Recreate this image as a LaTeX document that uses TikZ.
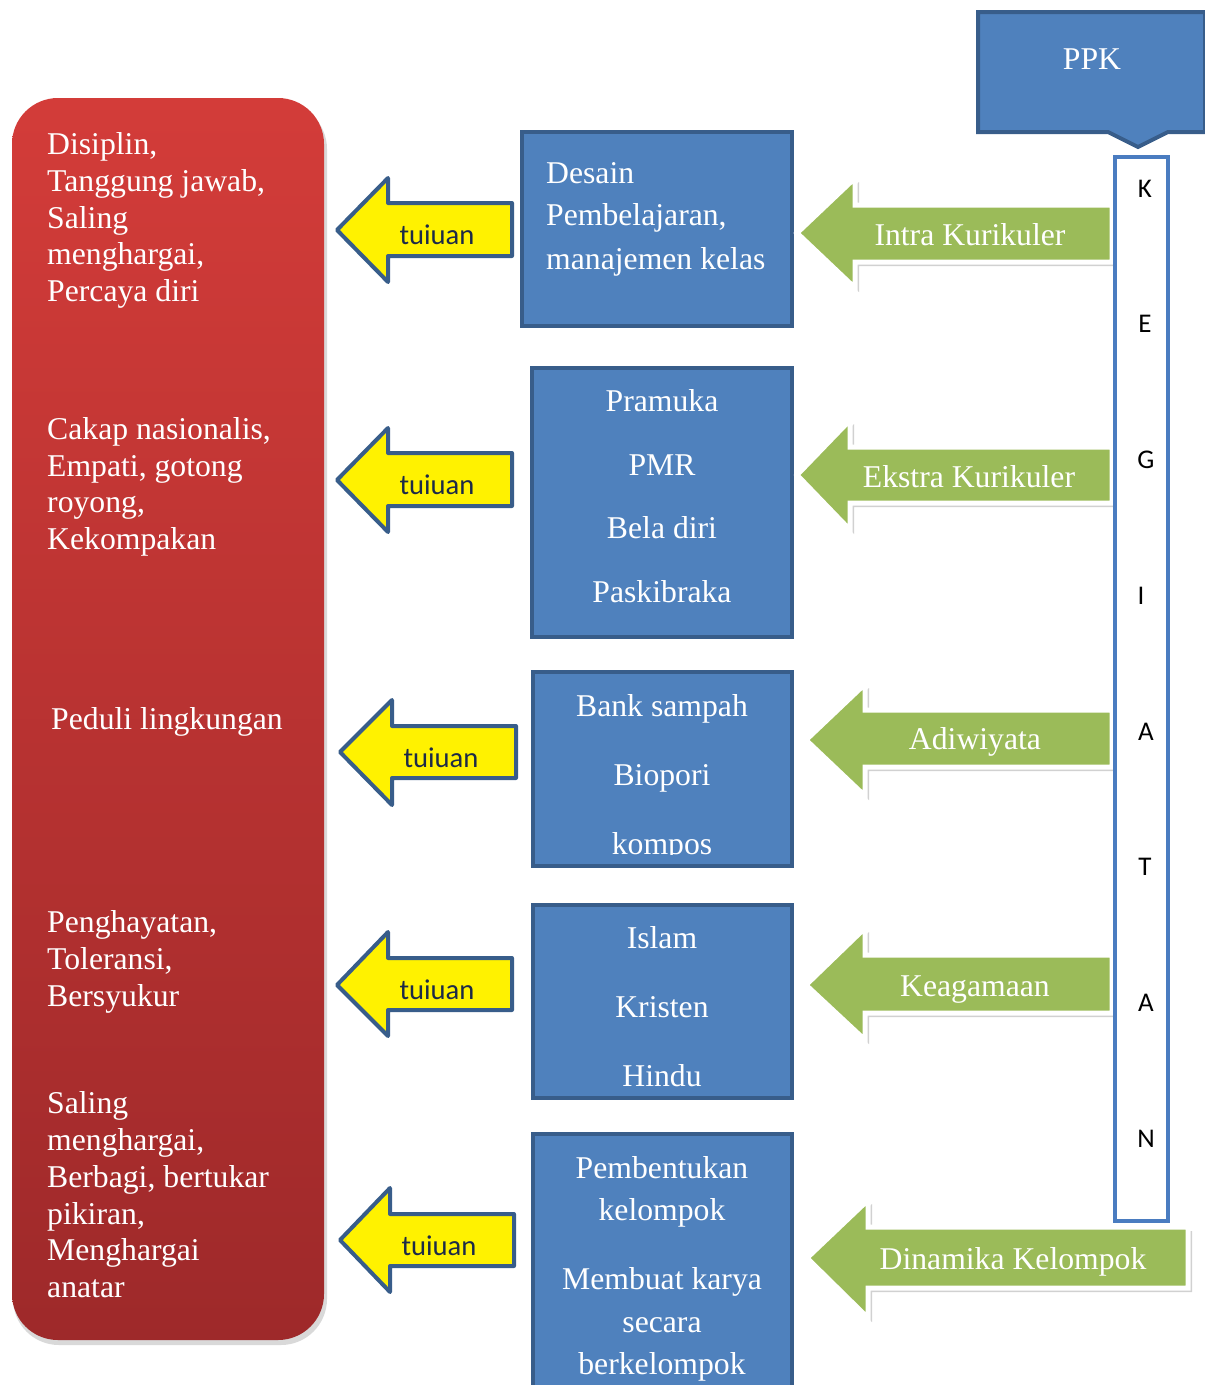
\documentclass[tikz,border=0pt]{standalone}
\usepackage{fontspec}
\setmainfont{Liberation Serif}
\newfontfamily\calfont{Carlito}
\definecolor{bluefill}{HTML}{4F81BD}
\definecolor{blueline}{HTML}{385D8A}
\definecolor{kegline}{HTML}{4A7CC0}
\definecolor{greenfill}{HTML}{9BBB59}
\definecolor{redtop}{HTML}{D33C39}
\definecolor{redbot}{HTML}{9E292A}
\definecolor{tjtext}{HTML}{1C2A48}
\begin{document}
\begin{tikzpicture}[x=1pt,y=-1pt,
  txt/.style={font=\fontsize{31.7}{36}\selectfont, text=white, inner sep=0pt, yshift=-2pt},
  lt/.style={txt, anchor=base west},
  ct/.style={txt, anchor=base},
  bluebox/.style={fill=bluefill, draw=blueline, line width=4pt},
  yarrow/.style={fill=yellow, draw=blueline, line width=4pt, line join=round},
  garrow/.style={fill=greenfill, draw=white, line width=5pt, line join=miter},
  gshadow/.style={fill=black, opacity=0.18},
  tj/.style={font=\calfont\fontsize{28.6}{30}\selectfont, text=tjtext, inner sep=0pt, anchor=base},
  kl/.style={font=\calfont\fontsize{27}{30}\selectfont, text=black, inner sep=0pt}]
\clip (0,0) rectangle (1205,1385);
\fill[white] (0,0) rectangle (1205,1385);

% red box
\fill[black, opacity=0.15, rounded corners=46pt] (13,103) rectangle (327,1345);
\shade[top color=redtop, bottom color=redbot, rounded corners=46pt] (12,98) rectangle (324,1340);

\node[lt] (r1a) at (47,152) {Disiplin,};
\node[lt] (r1b) at (47,189) {Tanggung jawab,};
\node[lt] (r1c) at (47,226) {Saling};
\node[lt] (r1d) at (47,262) {menghargai,};
\node[lt] (r1e) at (47,299) {Percaya diri};
\node[lt] (r2a) at (47,437) {Cakap nasionalis,};
\node[lt] (r2b) at (47,474) {Empati, gotong};
\node[lt] (r2c) at (47,510) {royong,};
\node[lt] (r2d) at (47,547) {Kekompakan};
\node[lt] (r3a) at (51,727) {Peduli lingkungan};
\node[lt] (r4a) at (47,930) {Penghayatan,};
\node[lt] (r4b) at (47,967) {Toleransi,};
\node[lt] (r4c) at (47,1004) {Bersyukur};
\node[lt] (r5a) at (47,1111) {Saling};
\node[lt] (r5b) at (47,1148) {menghargai,};
\node[lt] (r5c) at (47,1185) {Berbagi, bertukar};
\node[lt] (r5d) at (47,1222) {pikiran,};
\node[lt] (r5e) at (47,1258) {Menghargai};
\node[lt] (r5f) at (47,1295) {anatar};

% yellow arrows
\draw[yarrow] (512,203) -- (388,203) -- (388,178) -- (337,230) -- (388,282) -- (388,256) -- (512,256) -- cycle;
\node[tj] (t1) at (437,244) {tuiuan};
\draw[yarrow] (512,453) -- (388,453) -- (388,428) -- (337,480) -- (388,532) -- (388,506) -- (512,506) -- cycle;
\node[tj] (t2) at (437,494) {tuiuan};
\draw[yarrow] (516,726) -- (392,726) -- (392,700) -- (340,752) -- (392,805) -- (392,778) -- (516,778) -- cycle;
\node[tj] (t3) at (441,767) {tuiuan};
\draw[yarrow] (512,958) -- (388,958) -- (388,932) -- (337,985) -- (388,1036) -- (388,1010) -- (512,1010) -- cycle;
\node[tj] (t4) at (437,999) {tuiuan};
\draw[yarrow] (514,1214) -- (390,1214) -- (390,1188) -- (340,1240) -- (390,1292) -- (390,1266) -- (514,1266) -- cycle;
\node[tj] (t5) at (439,1255) {tuiuan};

% blue boxes
\draw[bluebox] (522,132) rectangle (792,326);
\node[lt] (b1a) at (546,181) {Desain};
\node[lt] (b1b) at (546,223) {Pembelajaran,};
\node[lt] (b1c) at (546,267) {manajemen kelas};

\draw[bluebox] (532,368) rectangle (792,637);
\node[ct] (b2a) at (662,409) {Pramuka};
\node[ct] (b2b) at (662,473) {PMR};
\node[ct] (b2c) at (662,536) {Bela diri};
\node[ct] (b2d) at (662,600) {Paskibraka};

\draw[bluebox] (533,672) rectangle (792,866);
\node[ct] (b3a) at (662,714) {Bank sampah};
\node[ct] (b3b) at (662,783) {Biopori};
\begin{scope}
\clip (533,672) rectangle (792,854);
\node[ct] (b3c) at (662,852) {kompos};
\end{scope}

\draw[bluebox] (533,905) rectangle (792,1098);
\node[ct] (b4a) at (662,946) {Islam};
\node[ct] (b4b) at (662,1015) {Kristen};
\node[ct] (b4c) at (662,1084) {Hindu};

\draw[bluebox] (533,1134) rectangle (792,1400);
\node[ct] (b5a) at (662,1176) {Pembentukan};
\node[ct] (b5b) at (662,1218) {kelompok};
\node[ct] (b5c) at (662,1287) {Membuat karya};
\node[ct] (b5d) at (662,1330) {secara};
\node[ct] (b5e) at (662,1372) {berkelompok};

% green arrows
\fill[gshadow] (1116,209) -- (859,209) -- (859,182) -- (801,237) -- (859,292) -- (859,266) -- (1116,266) -- cycle;
\draw[garrow] (1112,205) -- (855,205) -- (855,178) -- (797,233) -- (855,288) -- (855,262) -- (1112,262) -- cycle;
\node[ct] (g1) at (970,243) {Intra Kurikuler};

\fill[gshadow] (1116,451) -- (854,451) -- (854,424) -- (801,479) -- (854,534) -- (854,507) -- (1116,507) -- cycle;
\draw[garrow] (1112,447) -- (850,447) -- (850,420) -- (797,475) -- (850,530) -- (850,503) -- (1112,503) -- cycle;
\node[ct] (g2) at (969,485) {Ekstra Kurikuler};

\fill[gshadow] (1116,714) -- (869,714) -- (869,688) -- (810,744) -- (869,800) -- (869,771) -- (1116,771) -- cycle;
\draw[garrow] (1112,710) -- (865,710) -- (865,684) -- (806,740) -- (865,796) -- (865,767) -- (1112,767) -- cycle;
\node[ct] (g3) at (975,747) {Adiwiyata};

\fill[gshadow] (1116,959) -- (869,959) -- (869,932) -- (810,989) -- (869,1044) -- (869,1017) -- (1116,1017) -- cycle;
\draw[garrow] (1112,955) -- (865,955) -- (865,928) -- (806,985) -- (865,1040) -- (865,1013) -- (1112,1013) -- cycle;
\node[ct] (g4) at (975,994) {Keagamaan};

\fill[gshadow] (1192,1231) -- (872,1231) -- (872,1204) -- (811,1262) -- (872,1322) -- (872,1292) -- (1192,1292) -- cycle;
\draw[garrow] (1188,1227) -- (868,1227) -- (868,1200) -- (807,1258) -- (868,1318) -- (868,1288) -- (1188,1288) -- cycle;
\node[ct] (g5) at (1013,1267) {Dinamika Kelompok};

% PPK callout
\draw[bluebox, line join=miter] (978,12) -- (1205,12) -- (1205,132) -- (1168,132) -- (1138,147) -- (1108,132) -- (978,132) -- cycle;
\node[ct] (ppk) at (1092,67) {PPK};

% KEGIATAN column
\draw[fill=white, draw=kegline, line width=4pt] (1115,157) rectangle (1168,1221);
\node[kl] (k1) at (1145,189) {K};
\node[kl] (k2) at (1145,324) {E};
\node[kl] (k3) at (1146,460) {G};
\node[kl] (k4) at (1141,596) {I};
\node[kl] (k5) at (1146,732) {A};
\node[kl] (k6) at (1145,867) {T};
\node[kl] (k7) at (1146,1003) {A};
\node[kl] (k8) at (1146,1139) {N};
\end{tikzpicture}
\end{document}
